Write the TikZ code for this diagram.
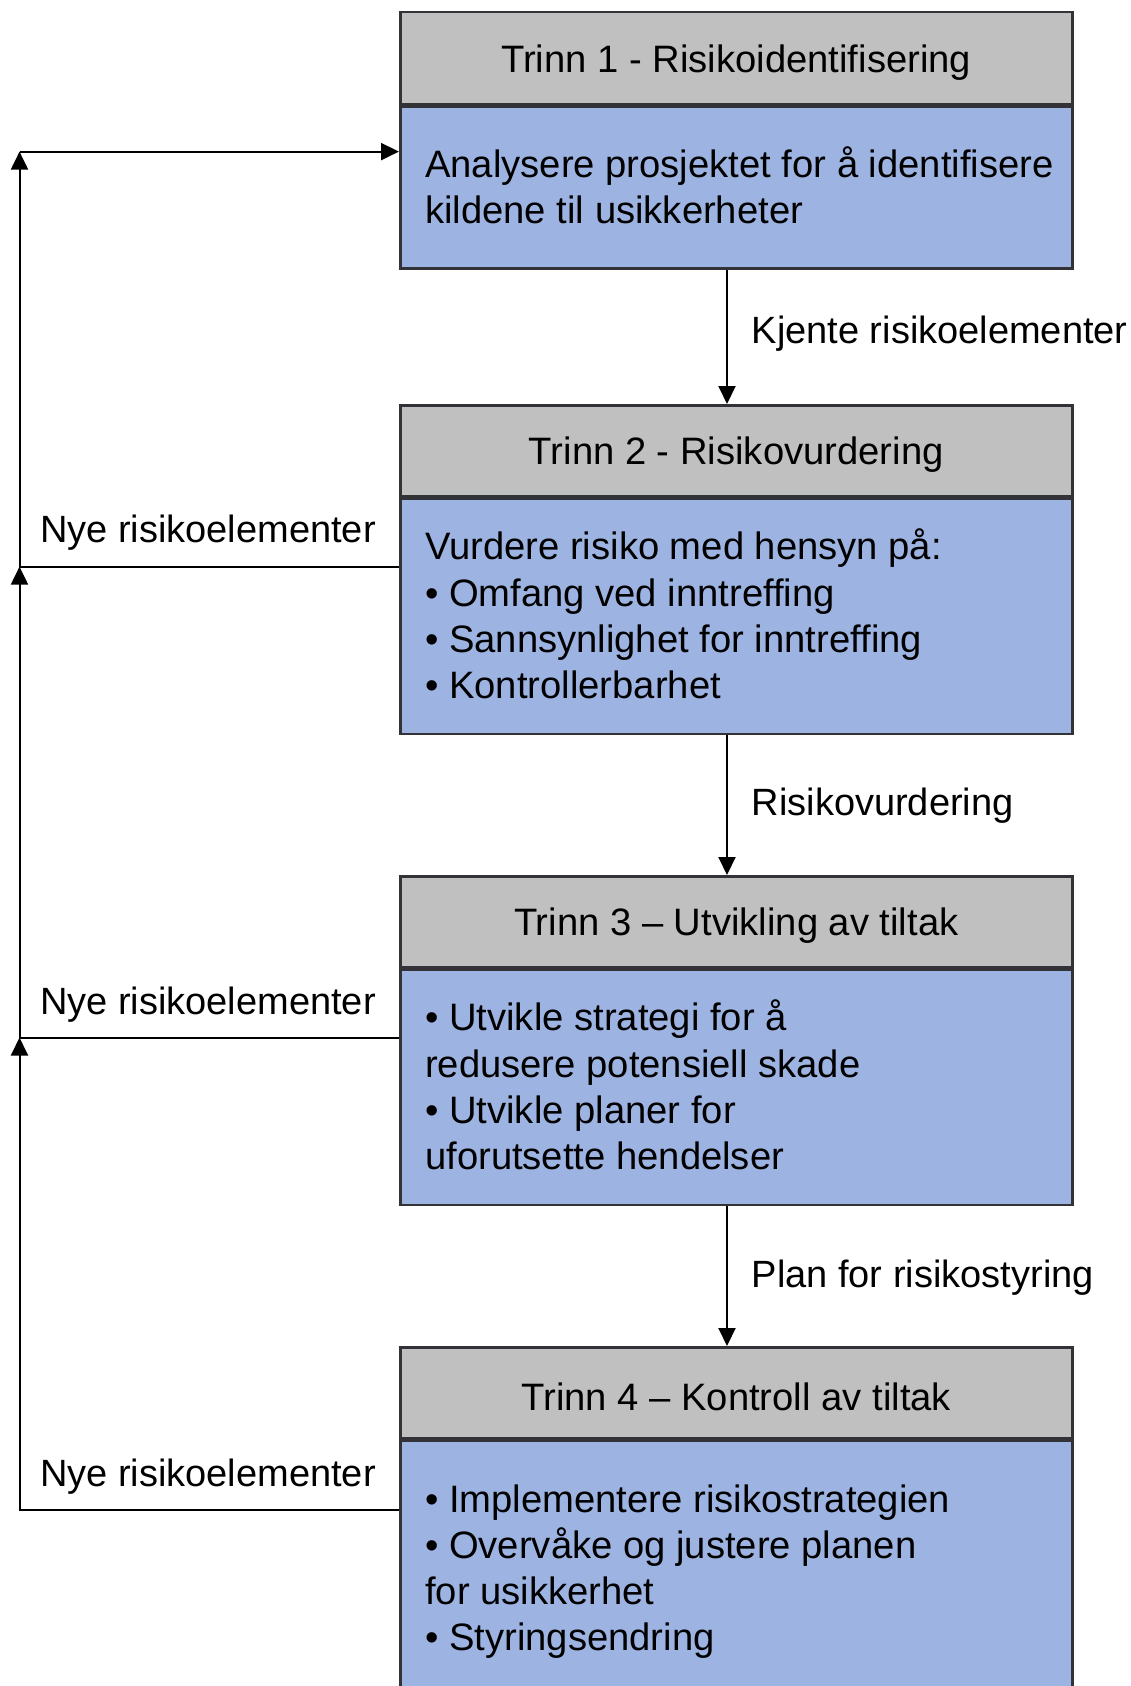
\documentclass[tikz,border=0pt]{standalone}
\usepackage{fontspec}
\setmainfont{Liberation Sans}
\usetikzlibrary{arrows.meta}
\definecolor{hdrgray}{RGB}{192,192,192}
\definecolor{bodyblue}{RGB}{157,179,225}
\definecolor{edgecol}{RGB}{50,50,55}
\begin{document}
\begin{tikzpicture}[x=1pt,y=-1pt,
  every node/.style={font=\fontsize{38.2}{46.2}\selectfont, text=black},
  hdr/.style={draw=edgecol, line width=2.5pt, fill=hdrgray, minimum width=672pt, inner sep=0pt, anchor=north west},
  bodybox/.style={draw=edgecol, line width=2.5pt, fill=bodyblue, minimum width=672pt, inner sep=0pt, anchor=north west},
  hdrtext/.style={inner sep=0pt, anchor=center},
  bodytext/.style={inner sep=0pt, align=left, anchor=west},
  lbl/.style={inner sep=0pt, font=\fontsize{38}{46.2}\selectfont},
  conn/.style={line width=2pt, draw=black},
  tip/.style={-{Triangle[length=18pt,width=17pt]}}]
\useasboundingbox[fill=white] (0,0) rectangle (1131,1686);

% boxes
\node[hdr, minimum height=92pt] (h1) at (399,11) {};
\node[bodybox, minimum height=161.5pt] (b1) at (h1.south west) {};
\node[hdr, minimum height=90.5pt] (h2) at (399,404) {};
\node[bodybox, minimum height=235.5pt] (b2) at (h2.south west) {};
\node[hdr, minimum height=90.5pt] (h3) at (399,875) {};
\node[bodybox, minimum height=235.5pt] (b3) at (h3.south west) {};
\node[hdr, minimum height=91pt] (h4) at (399,1346) {};
\node[bodybox, minimum height=262pt] (b4) at (h4.south west) {};

% header texts
\node[hdrtext] (t1) at ([yshift=-4.3pt]h1.center) {Trinn 1 - Risikoidentifisering};
\node[hdrtext] (t2) at ([yshift=-4.3pt]h2.center) {Trinn 2 - Risikovurdering};
\node[hdrtext] (t3) at ([yshift=-4.3pt]h3.center) {Trinn 3 – Utvikling av tiltak};
\node[hdrtext] (t4) at ([yshift=-4.3pt]h4.center) {Trinn 4 – Kontroll av tiltak};

% body texts
\node[bodytext] (s1) at ([xshift=26pt,yshift=2.5pt]b1.west) {Analysere prosjektet for å identifisere\\kildene til usikkerheter};
\node[bodytext] (s2) at ([xshift=26pt,yshift=2pt]b2.west) {Vurdere risiko med hensyn på:\\• Omfang ved inntreffing\\• Sannsynlighet for inntreffing\\• Kontrollerbarhet};
\node[bodytext] (s3) at ([xshift=26pt,yshift=2pt]b3.west) {• Utvikle strategi for å\\redusere potensiell skade\\• Utvikle planer for\\uforutsette hendelser};
\node[bodytext] (s4) at ([xshift=26pt]b4.west) {• Implementere risikostrategien\\• Overvåke og justere planen\\for usikkerhet\\• Styringsendring};

% coordinates
\coordinate (ax) at (727,0);
\coordinate (j1) at (19.5,151.6);
\coordinate (j2) at (19.5,566.6);
\coordinate (j3) at (19.5,1037.5);
\coordinate (j4) at (19.5,1509.5);

% downward connectors
\draw[conn,tip] (b1.south -| ax) -- (h2.north -| ax);
\draw[conn,tip] (b2.south -| ax) -- (h3.north -| ax);
\draw[conn,tip] (b3.south -| ax) -- (h4.north -| ax);

% feedback connectors
\draw[conn,tip] (b4.west |- j4) -- (j4) -- (j3);
\draw[conn,tip] (b3.west |- j3) -- (j3) -- (j2);
\draw[conn,tip] (b2.west |- j2) -- (j2) -- (j1);
\draw[conn,tip] (j1) -- (b1.west |- j1);

% labels
\node[lbl, anchor=base west] (k1) at (751.5,343.5) {Kjente risikoelementer};
\node[lbl, anchor=base west] (k2) at (751.5,815.5) {Risikovurdering};
\node[lbl, anchor=base west] (k3) at (751.5,1287.5) {Plan for risikostyring};
\node[lbl, anchor=base east] (n1) at (376,542.5) {Nye risikoelementer};
\node[lbl, anchor=base east] (n2) at (376,1014.5) {Nye risikoelementer};
\node[lbl, anchor=base east] (n3) at (376,1486.5) {Nye risikoelementer};
\end{tikzpicture}
\end{document}
